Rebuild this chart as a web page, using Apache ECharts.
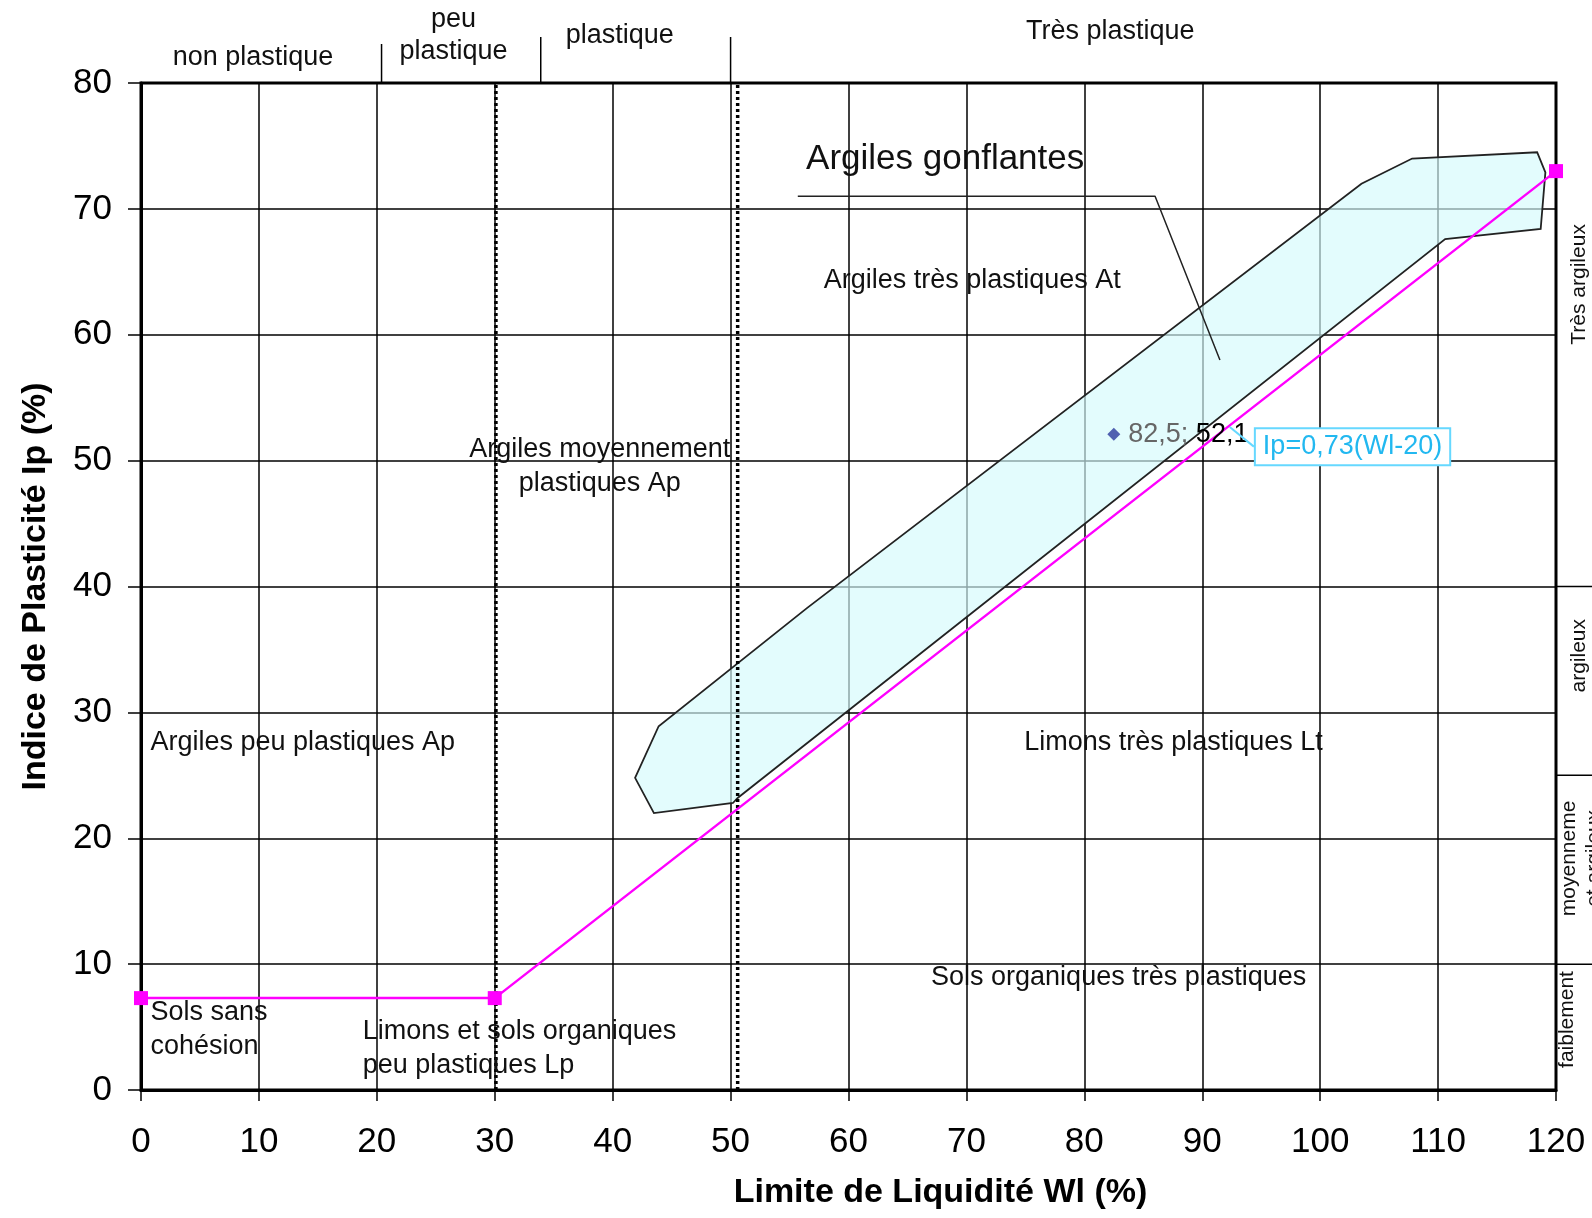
<!DOCTYPE html>
<html lang="fr">
<head>
    <meta charset="UTF-8">
    <title>Abaque de plasticité</title>
    <script src="https://cdn.jsdelivr.net/npm/echarts@6/dist/echarts.min.js"></script>
    <style>
        html, body { margin: 0; padding: 0; background: #fff; }
        #chart { width: 1592px; height: 1218px; }
    </style>
</head>
<body>
<div id="chart"></div>
<script>
    const FONT = 'Liberation Sans, Arial, sans-serif';

    // ligne A : Ip = 0,73 (Wl - 20), palier a 7,3 pour Wl < 30
    const aLineWl = [0, 30, 120];
    const aLineIp = [7.3, 7.3, 73];

    // zone des argiles gonflantes (contour)
    const zoneWl = [41.9, 43.9, 56.5, 103.5, 107.8, 118.4, 119.1, 118.7, 110.6, 50.6, 50.2, 43.5];
    const zoneIp = [24.8, 28.9, 38.3, 72.0, 74.0, 74.5, 72.9, 68.4, 67.6, 23.2, 22.8, 22.0];

    // echantillon
    const sampleWl = [82.5];
    const sampleIp = [52.1];

    // limites verticales en pointilles
    const limitWl = [30.1, 50.6];

    // trait de rappel "Argiles gonflantes"
    const leaderWl = [55.7, 86.0, 91.5];
    const leaderIp = [71.0, 71.0, 58.0];

    // textes des domaines
    const zoneNames = [
        'Argiles très plastiques At',
        'Argiles peu plastiques Ap',
        'Limons très plastiques Lt',
        'Sols organiques très plastiques',
        'Sols sans\ncohésion',
        'Limons et sols organiques\npeu plastiques Lp'
    ];
    const zoneNameWl = [57.9, 0.8, 74.9, 67.0, 0.8, 18.8];
    const zoneNameIp = [64.3, 27.6, 27.6, 8.9, 4.8, 3.3];

    const centeredName = 'Argiles moyennement\nplastiques Ap';
    const centeredNameAt = [38.9, 49.5];
    const swellingName = 'Argiles gonflantes';
    const swellingNameAt = [56.4, 73.9];

    // equation de la ligne A
    const equationText = 'Ip=0,73(Wl-20)';
    const equationAt = [92.3, 52.7];

    // classes de plasticite (en haut)
    const plasticityClasses = ['non plastique', 'peu\nplastique', 'plastique', 'Très plastique'];
    const plasticityCenterWl = [9.5, 26.5, 40.6, 82.2];
    const plasticityLimitWl = [20.4, 33.9, 50];

    // classes d'argilosite (a droite)
    const clayClasses = ['Très argileux', 'argileux', 'moyenneme', 'faiblement'];
    const clayCenterIp = [64.0, 34.5, 18.4, 5.6];
    const clayLimitIp = [40, 25, 10];

    const pair = (xs, ys) => xs.map((x, i) => [x, ys[i]]);

    let chart = echarts.init(document.getElementById('chart'));

    const textLabel = {
        show: true,
        position: 'right',
        distance: 0,
        formatter: '{b}',
        fontSize: 27,
        lineHeight: 34,
        color: '#111',
        opacity: 1,
        fontFamily: FONT
    };

    let option = {
        animation: false,
        backgroundColor: '#fff',
        textStyle: {fontFamily: FONT},
        grid: {
            left: 141, right: 36, top: 83, bottom: 128,
            show: true,
            borderColor: '#000',
            borderWidth: 3,
            backgroundColor: 'transparent'
        },
        xAxis: {
            type: 'value',
            min: 0, max: 120, interval: 10,
            name: 'Limite de Liquidité Wl (%)',
            nameLocation: 'middle',
            nameGap: 86,
            nameTextStyle: {
                fontSize: 34, fontWeight: 'bold', color: '#000', fontFamily: FONT,
                padding: [0, 0, 0, 184]
            },
            axisLine: {lineStyle: {color: '#000', width: 3}},
            axisTick: {length: 11, lineStyle: {color: '#000', width: 1.5}},
            axisLabel: {fontSize: 35, color: '#000', margin: 35, fontFamily: FONT},
            splitLine: {lineStyle: {color: '#000', width: 1.5}}
        },
        yAxis: {
            type: 'value',
            min: 0, max: 80, interval: 10,
            name: 'Indice de Plasticité Ip (%)',
            nameLocation: 'middle',
            nameGap: 88,
            nameTextStyle: {fontSize: 34, fontWeight: 'bold', color: '#000', fontFamily: FONT},
            axisLine: {lineStyle: {color: '#000', width: 3}},
            axisTick: {length: 13, lineStyle: {color: '#000', width: 1.5}},
            axisLabel: {fontSize: 35, color: '#000', margin: 29, fontFamily: FONT},
            splitLine: {lineStyle: {color: '#000', width: 1.5}}
        },
        series: [
            {
                // zone argiles gonflantes
                type: 'custom',
                z: 2,
                data: pair(zoneWl, zoneIp),
                encode: {x: 0, y: 1},
                renderItem: function (params, api) {
                    if (params.dataIndex !== 0) return null;
                    let pts = zoneWl.map((w, i) => api.coord([w, zoneIp[i]]));
                    return {
                        type: 'polygon',
                        shape: {points: pts},
                        style: {fill: 'rgba(212, 250, 252, 0.66)', stroke: '#222', lineWidth: 1.8}
                    };
                },
                silent: true
            },
            {
                type: 'line',
                z: 3,
                data: pair([limitWl[0], limitWl[0]], [0, 80]),
                symbol: 'none',
                lineStyle: {color: '#000', width: 3.5, type: [3, 3]}
            },
            {
                type: 'line',
                z: 3,
                data: pair([limitWl[1], limitWl[1]], [0, 80]),
                symbol: 'none',
                lineStyle: {color: '#000', width: 3.5, type: [3, 3]}
            },
            {
                type: 'line',
                z: 3,
                data: pair(leaderWl, leaderIp),
                symbol: 'none',
                lineStyle: {color: '#222', width: 1.5}
            },
            {
                // ligne A
                type: 'line',
                z: 4,
                data: pair(aLineWl, aLineIp),
                symbol: 'rect',
                symbolSize: 14,
                itemStyle: {color: '#ff00ff'},
                lineStyle: {color: '#ff00ff', width: 2.5}
            },
            {
                // echantillon
                type: 'scatter',
                z: 5,
                data: pair(sampleWl, sampleIp),
                symbol: 'diamond',
                symbolSize: 13,
                itemStyle: {color: '#5060b0', opacity: 1},
                label: {
                    show: true,
                    position: 'right',
                    distance: 8,
                    fontSize: 27,
                    fontFamily: FONT,
                    opacity: 1,
                    formatter: p => '{a|' + String(p.value[0]).replace('.', ',') + ';} {b|' +
                        String(p.value[1]).replace('.', ',') + '}',
                    rich: {
                        a: {fontSize: 27, color: '#666', fontFamily: FONT},
                        b: {fontSize: 27, color: '#000', fontFamily: FONT}
                    }
                }
            },
            {
                // equation
                type: 'scatter',
                z: 6,
                data: [equationAt],
                symbolSize: 1,
                itemStyle: {color: 'transparent', opacity: 1},
                label: {
                    show: true,
                    position: [27, 3],
                    formatter: equationText,
                    fontSize: 27,
                    fontFamily: FONT,
                    color: '#22b8f0',
                    opacity: 1,
                    backgroundColor: '#fff',
                    borderColor: '#66d8ff',
                    borderWidth: 2,
                    padding: [4, 7, 4, 7]
                },
                labelLine: {show: true, lineStyle: {color: '#66d8ff', width: 2}}
            },
            {
                // textes des domaines
                type: 'scatter',
                z: 6,
                data: zoneNames.map((n, i) => ({name: n, value: [zoneNameWl[i], zoneNameIp[i]]})),
                symbolSize: 0,
                itemStyle: {opacity: 1},
                label: textLabel,
                silent: true
            },
            {
                type: 'scatter',
                z: 6,
                data: [{name: centeredName, value: centeredNameAt}],
                symbolSize: 0,
                itemStyle: {opacity: 1},
                label: Object.assign({}, textLabel, {position: 'inside', align: 'center'}),
                silent: true
            },
            {
                type: 'scatter',
                z: 6,
                data: [{name: swellingName, value: swellingNameAt}],
                symbolSize: 0,
                itemStyle: {opacity: 1},
                label: Object.assign({}, textLabel, {fontSize: 35, lineHeight: 40}),
                silent: true
            }
        ]
    };

    chart.setOption(option);

    // annotations hors du cadre, placees par rapport aux axes
    function drawFrameNotes() {
        let g = [];
        let px = w => chart.convertToPixel({gridIndex: 0}, [w, 0])[0];
        let py = ip => chart.convertToPixel({gridIndex: 0}, [0, ip])[1];
        let top = py(80);
        let right = px(120);

        const classY = [58, 36, 35.5, 31.5];
        plasticityClasses.forEach((t, i) => {
            g.push({
                type: 'text',
                x: px(plasticityCenterWl[i]),
                y: classY[i],
                style: {
                    text: t, fontSize: 27, fontFamily: FONT, fill: '#111',
                    lineHeight: 32, align: 'center', verticalAlign: 'middle'
                }
            });
        });
        const limitTop = [44, 37, 37];
        plasticityLimitWl.forEach((w, i) => {
            g.push({
                type: 'line',
                shape: {x1: px(w), y1: limitTop[i], x2: px(w), y2: top},
                style: {stroke: '#000', lineWidth: 1.5}
            });
        });

        const clayX = [1579, 1579, 1569, 1567];
        clayClasses.forEach((t, i) => {
            g.push({
                type: 'text',
                x: clayX[i],
                y: py(clayCenterIp[i]),
                rotation: Math.PI / 2,
                style: {
                    text: t, fontSize: 21, fontFamily: FONT, fill: '#111',
                    align: 'center', verticalAlign: 'middle'
                }
            });
        });
        g.push({
            type: 'text',
            x: 1594,
            y: py(clayCenterIp[2]),
            rotation: Math.PI / 2,
            style: {
                text: 'et argileux', fontSize: 21, fontFamily: FONT, fill: '#111',
                align: 'center', verticalAlign: 'middle'
            }
        });
        clayLimitIp.forEach(ip => {
            g.push({
                type: 'line',
                shape: {x1: right, y1: py(ip), x2: 1592, y2: py(ip)},
                style: {stroke: '#000', lineWidth: 1.5}
            });
        });

        chart.setOption({graphic: g});
    }

    drawFrameNotes();
</script>
</body>
</html>
